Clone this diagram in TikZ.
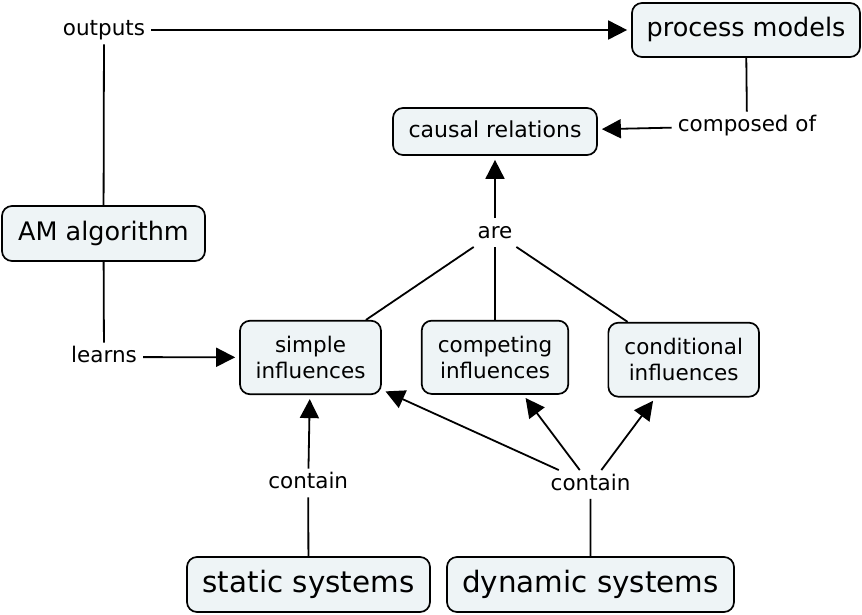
\documentclass[tikz,border=0pt]{standalone}
\usepackage{fontspec}
\setmainfont{DejaVu Sans}
\usetikzlibrary{arrows.meta}
\definecolor{cfill}{HTML}{EEF4F6}
\begin{document}
\begin{tikzpicture}[x=1pt,y=-1pt,
  concept/.style={draw=black, line width=1.7pt, fill=cfill, rounded corners=10pt, inner sep=0pt, align=center},
  bigtxt/.style={font=\fontsize{25.5}{30}\selectfont, text height=19.4pt, text depth=6.1pt},
  midtxt/.style={font=\fontsize{22}{26}\selectfont, text height=16.7pt, text depth=5.3pt},
  smalltxt/.style={font=\fontsize{21.5}{26}\selectfont},
  hugetxt/.style={font=\fontsize{29.4}{34}\selectfont, text height=22.3pt, text depth=7.1pt},
  link/.style={font=\fontsize{21.5}{26}\selectfont, inner xsep=6pt, inner ysep=3.5pt, text height=16.3pt, text depth=5.2pt},
  conn/.style={line width=1.8pt},
  arr/.style={conn, -{Triangle[length=19pt,width=19pt]}, shorten >=4pt}
]
\useasboundingbox (0,0) rectangle (862,614);
% concepts
\node[concept,bigtxt,minimum width=228pt,minimum height=54pt] (pm) at (746,30) {process models};
\node[concept,midtxt,minimum width=204pt,minimum height=47pt] (cr) at (495,131.5) {causal relations};
\node[concept,bigtxt,minimum width=203pt,minimum height=55pt] (am) at (103.5,233.5) {AM algorithm};
\node[concept,smalltxt,minimum width=141pt,minimum height=73.5pt] (si) at (310.5,357.5) {simple\\influences};
\node[concept,smalltxt,minimum width=146.6pt,minimum height=73.3pt] (ci) at (495,357.3) {competing\\influences};
\node[concept,smalltxt,minimum width=150.7pt,minimum height=74pt] (co) at (683.7,359.7) {conditional\\influences};
\node[concept,hugetxt,minimum width=243pt,minimum height=55pt] (ss) at (308.5,584.5) {static systems};
\node[concept,hugetxt,minimum width=287pt,minimum height=55pt] (ds) at (590.5,584.5) {dynamic systems};
% linking phrases
\node[link] (out) at (104,30) {outputs};
\node[link] (comp) at (747,126) {composed of};
\node[link] (are) at (495,232.5) {are};
\node[link] (lrn) at (104,357) {learns};
\node[link] (c1) at (308.2,483) {contain};
\node[link] (c2) at (590.6,484.5) {contain};
% connectors
\draw[conn] (am) -- (out);
\draw[arr] (out) -- (pm);
\draw[conn] (pm) -- (comp);
\draw[arr] (comp) -- (cr);
\draw[arr] (are) -- (cr);
\draw[conn] (si) -- (are);
\draw[conn] (ci) -- (are);
\draw[conn] (co) -- (are);
\draw[conn] (am) -- (lrn);
\draw[arr] (lrn) -- (si);
\draw[conn] (ss) -- (c1);
\draw[arr] (c1) -- (si);
\draw[conn] (ds) -- (c2);
\draw[arr] (c2) -- (si);
\draw[arr] (c2) -- (ci);
\draw[arr] (c2) -- (co);
\end{tikzpicture}
\end{document}
